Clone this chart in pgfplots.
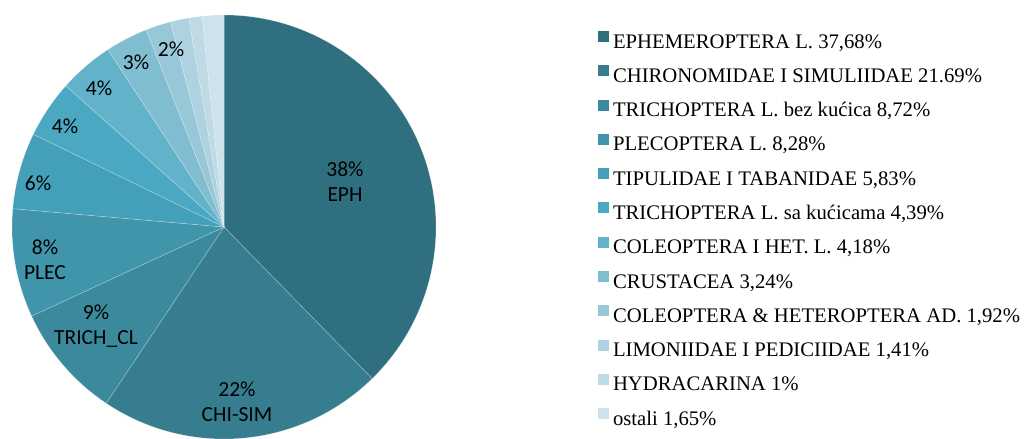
\documentclass[border=0pt]{standalone}
\usepackage{fontspec}
\setmainfont{Liberation Serif}
\newfontfamily\calib{Carlito}
\usepackage{pgfplots}
\pgfplotsset{compat=1.18}
\usepackage{pgfplotstable}

\definecolor{c0}{HTML}{2F6F80}
\definecolor{c1}{HTML}{357D8F}
\definecolor{c2}{HTML}{3B899C}
\definecolor{c3}{HTML}{4095AB}
\definecolor{c4}{HTML}{44A0B8}
\definecolor{c5}{HTML}{4AA8C2}
\definecolor{c6}{HTML}{62B2CA}
\definecolor{c7}{HTML}{80BDD1}
\definecolor{c8}{HTML}{98C7D8}
\definecolor{c9}{HTML}{AED2E0}
\definecolor{c10}{HTML}{BFDAE5}
\definecolor{c11}{HTML}{CDE2EA}

\pgfplotstableread{
val
37.68
21.69
8.72
8.28
5.83
4.39
4.18
3.24
1.92
1.41
1.00
1.65
}\piedata

\begin{document}
\begin{tikzpicture}
\begin{axis}[
  scale only axis, width=1026pt, height=439pt,
  xmin=0, xmax=1026, ymin=0, ymax=439,
  hide axis, clip=false,
  legend image code/.code={\fill[#1] (0pt,1pt) rectangle (11pt,12pt);},
  legend cell align=left,
  legend style={draw=none, fill=none, inner sep=0pt, outer sep=0pt,
    at={(axis cs:598,408)}, anchor=north west,
    row sep=12.3pt, column sep=4pt,
    font=\fontsize{20.7}{24}\selectfont,
    nodes={text height=15pt, text depth=5pt, inner sep=0pt}},
]
\pgfplotsextra{
  \pgfplotstablegetrowsof{\piedata}\pgfmathtruncatemacro\lastrow{\pgfplotsretval-1}
  \xdef\angA{90}
  \foreach \i in {0,...,\lastrow}{
    \pgfplotstablegetelem{\i}{val}\of{\piedata}\let\v\pgfplotsretval
    \pgfmathsetmacro\angB{\angA-3.6*\v*100/99.99}
    \fill[c\i, draw=white, draw opacity=0.35, line width=0.5pt] (axis cs:224,212) -- ++(\angA:212pt) arc[start angle=\angA, end angle=\angB, radius=212pt] -- cycle;
    \xdef\angA{\angB}
  }
}
\addlegendimage{fill=c0, draw=none}\addlegendentry{EPHEMEROPTERA L. 37,68\%}
\addlegendimage{fill=c1, draw=none}\addlegendentry{CHIRONOMIDAE I SIMULIIDAE 21.69\%}
\addlegendimage{fill=c2, draw=none}\addlegendentry{TRICHOPTERA L. bez kućica 8,72\%}
\addlegendimage{fill=c3, draw=none}\addlegendentry{PLECOPTERA L. 8,28\%}
\addlegendimage{fill=c4, draw=none}\addlegendentry{TIPULIDAE I TABANIDAE 5,83\%}
\addlegendimage{fill=c5, draw=none}\addlegendentry{TRICHOPTERA L. sa kućicama 4,39\%}
\addlegendimage{fill=c6, draw=none}\addlegendentry{COLEOPTERA I HET. L. 4,18\%}
\addlegendimage{fill=c7, draw=none}\addlegendentry{CRUSTACEA 3,24\%}
\addlegendimage{fill=c8, draw=none}\addlegendentry{COLEOPTERA \& HETEROPTERA AD. 1,92\%}
\addlegendimage{fill=c9, draw=none}\addlegendentry{LIMONIIDAE I PEDICIIDAE 1,41\%}
\addlegendimage{fill=c10, draw=none}\addlegendentry{HYDRACARINA 1\%}
\addlegendimage{fill=c11, draw=none}\addlegendentry{ostali 1,65\%}

\begin{scope}[every node/.style={font=\calib\fontsize{21.5}{25}\selectfont, align=center, text=black}]
\node at (axis cs:345,257) {38\%\\EPH};
\node at (axis cs:237,37) {22\%\\CHI-SIM};
\node at (axis cs:96,113) {9\%\\TRICH\_CL};
\node at (axis cs:45,179) {8\%\\PLEC};
\node at (axis cs:38,256) {6\%};
\node at (axis cs:65,313) {4\%};
\node at (axis cs:99,351) {4\%};
\node at (axis cs:136,377) {3\%};
\node at (axis cs:171,390) {2\%};
\end{scope}
\end{axis}
\pgfresetboundingbox
\path (current axis.south west) rectangle (current axis.north east);
\end{tikzpicture}
\end{document}
